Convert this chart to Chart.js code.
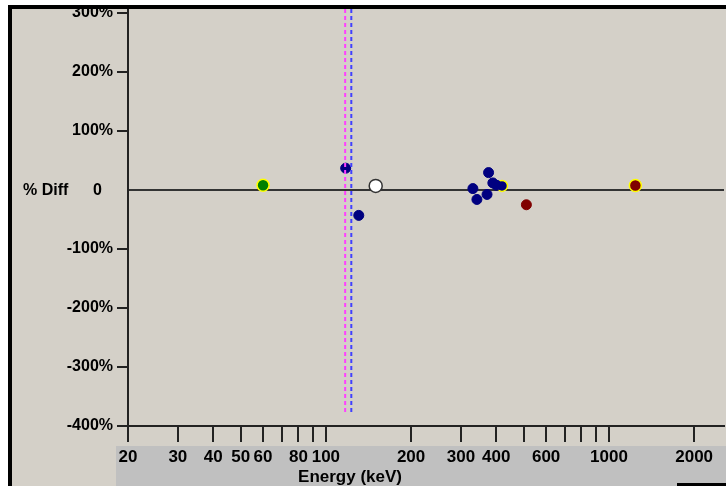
<!DOCTYPE html>
<html>
<head>
<meta charset="utf-8">
<script src="https://cdn.jsdelivr.net/npm/chart.js@4"></script>
<style>
  body { margin: 0; background: #fff; }
  canvas { display: block; }
</style>
</head>
<body>
<canvas id="chartDiff" width="726" height="486"></canvas>
<script>
// energias (keV) y diferencias (%)
const azulEnergia = [117.5, 130.7, 330.7, 341.7, 375.7, 371, 389, 401];
const azulDiff = [37, -43, 2.4, -16, 29.5, -7.5, 12, 8];
const amarilloAzulEnergia = [419];
const amarilloAzulDiff = [7];
const verdeEnergia = [60];
const verdeDiff = [8];
const blancoEnergia = [150];
const blancoDiff = [7];
const rojoEnergia = [511];
const rojoDiff = [-25];
const rojoAmarilloEnergia = [1240];
const rojoAmarilloDiff = [7.5];

// lineas verticales (keV)
const lineaMagenta = 117;
const lineaAzul = 123;

const xTicks = [20, 30, 40, 50, 60, 70, 80, 90, 100, 200, 300, 400, 500, 600, 700, 800, 900, 1000, 2000];
const xEtiquetas = [20, 30, 40, 50, 60, 80, 100, 200, 300, 400, 600, 1000, 2000];
const yTicks = [-400, -300, -200, -100, 0, 100, 200, 300];

const yMax = 306.8;
const yMin = -400;
const lineaFin = -377;

const pts = (xs, ys) => xs.map((x, i) => ({ x, y: ys[i] }));
const fuente = { family: "Liberation Sans", weight: "bold", size: 16 };
const sinPadding = s => { s.paddingLeft = 0; s.paddingRight = 0; s.paddingTop = 0; s.paddingBottom = 0; };

// area del grafico fija: izquierda 128, derecha 724, arriba 9, abajo 426
const area = {
    id: "area",
    afterLayout(chart) {
        const a = chart.chartArea;
        a.left = 128; a.right = 724; a.top = 9; a.bottom = 426;
        a.width = a.right - a.left;
        a.height = a.bottom - a.top;
        const x = chart.scales.x;
        x.left = 128; x.right = 724; x.width = 596;
        x.configure();
        const y = chart.scales.y;
        y.top = 9; y.bottom = 426; y.height = 417;
        y.configure();
    }
};

const fondo = {
    id: "fondo",
    beforeDraw(chart) {
        const c = chart.ctx;
        c.save();
        c.fillStyle = "#d4d0c8";
        c.fillRect(0, 0, 726, 486);
        c.fillStyle = "#c0c0c0";
        c.fillRect(116, 446, 610, 40);
        c.restore();
    },
    afterDraw(chart) {
        const c = chart.ctx;
        const y0 = chart.scales.y.getPixelForValue(0);
        c.save();
        c.fillStyle = "#fff";
        c.fillRect(0, 0, 726, 5);
        c.fillRect(0, 0, 8, 486);
        c.fillStyle = "#000";
        c.fillRect(8, 5, 718, 4);
        c.fillRect(8, 5, 4, 481);
        c.fillRect(677, 483, 49, 3);
        c.font = "bold 16px 'Liberation Sans'";
        c.textBaseline = "middle";
        c.textAlign = "left";
        c.fillText("% Diff", 23, y0 + 1);
        c.fillText("0", 93, y0 + 1);
        c.font = "bold 17px 'Liberation Sans'";
        c.textAlign = "center";
        c.textBaseline = "alphabetic";
        c.fillText("Energy (keV)", 350, 482);
        c.restore();
    }
};

const punto = (label, data, fill, border, r, bw) => ({
    type: "scatter",
    label,
    data,
    backgroundColor: fill,
    borderColor: border,
    borderWidth: bw,
    pointRadius: r
});

new Chart(document.getElementById("chartDiff").getContext("2d"), {
    data: {
        datasets: [
            {
                type: "line", label: "m", data: [{ x: lineaMagenta, y: yMax }, { x: lineaMagenta, y: lineaFin }],
                borderColor: "#ff40ff", borderWidth: 2, borderDash: [4, 3], pointRadius: 0
            },
            {
                type: "line", label: "a", data: [{ x: lineaAzul, y: yMax }, { x: lineaAzul, y: lineaFin }],
                borderColor: "#4040ff", borderWidth: 2, borderDash: [4, 3], pointRadius: 0
            },
            punto("azul", pts(azulEnergia, azulDiff), "#000080", "#000080", 5, 1),
            punto("azulAm", pts(amarilloAzulEnergia, amarilloAzulDiff), "#000080", "#ffff00", 5.5, 1.5),
            punto("verde", pts(verdeEnergia, verdeDiff), "#008000", "#ffff00", 6, 1.5),
            punto("blanco", pts(blancoEnergia, blancoDiff), "#ffffff", "#333333", 6.5, 1.5),
            punto("rojo", pts(rojoEnergia, rojoDiff), "#800000", "#800000", 5, 1),
            punto("rojoAm", pts(rojoAmarilloEnergia, rojoAmarilloDiff), "#800000", "#ffff00", 6, 1.5)
        ]
    },
    options: {
        responsive: false,
        animation: false,
        layout: { padding: { top: 9, right: 2, left: 0, bottom: 0 } },
        plugins: { legend: { display: false }, tooltip: { enabled: false } },
        scales: {
            x: {
                type: "logarithmic",
                min: 20,
                max: 2550,
                afterFit: s => { s.height = 60; sinPadding(s); },
                afterBuildTicks: s => { s.ticks = xTicks.map(v => ({ value: v })); },
                ticks: {
                    autoSkip: false,
                    maxRotation: 0,
                    padding: 5,
                    color: "#000",
                    font: { family: "Liberation Sans", weight: "bold", size: 17 },
                    callback: v => xEtiquetas.includes(v) ? String(v) : ""
                },
                grid: { drawOnChartArea: false, tickLength: 16, color: "#222", lineWidth: 2 },
                border: { color: "#222", width: 2 }
            },
            y: {
                min: yMin,
                max: yMax,
                afterFit: s => { s.width = 128; sinPadding(s); },
                afterBuildTicks: s => { s.ticks = yTicks.map(v => ({ value: v })); },
                ticks: {
                    padding: 4,
                    color: "#000",
                    font: fuente,
                    callback: v => v === 0 ? "" : v + "%"
                },
                grid: {
                    color: c => (c.tick && c.tick.value === 0) ? "#333" : "rgba(0,0,0,0)",
                    tickColor: c => (c.tick && c.tick.value === 0) ? "rgba(0,0,0,0)" : "#222",
                    lineWidth: 2,
                    tickLength: 11
                },
                border: { color: "#222", width: 2 }
            }
        }
    },
    plugins: [area, fondo]
});
</script>
</body>
</html>
